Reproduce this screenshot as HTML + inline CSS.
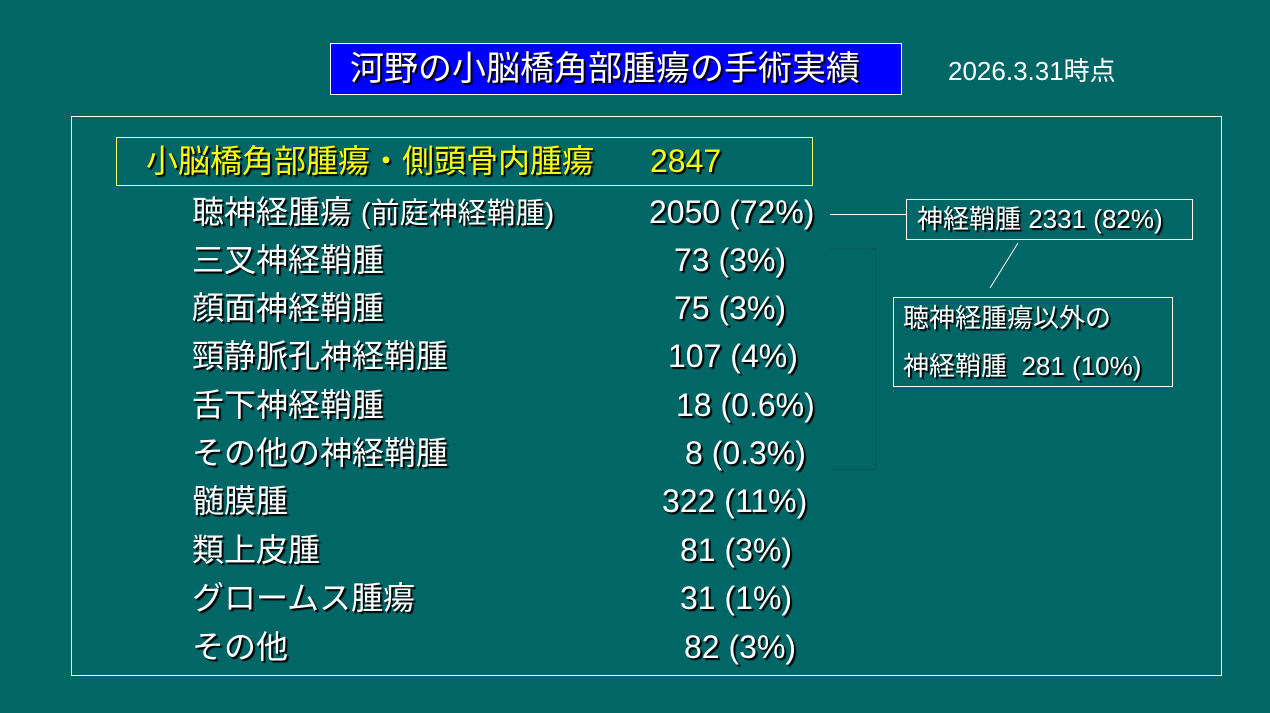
<!DOCTYPE html><html><head><meta charset="utf-8"><style>
body{margin:0;width:1270px;height:713px;background:#006666;position:relative;overflow:hidden;font-family:"Liberation Sans","Noto Sans CJK JP",sans-serif;color:#fff}
.a{position:absolute;white-space:nowrap;text-shadow:2px 2px 1px #000}
.r{font-size:32px;line-height:36px}
.s{font-size:26px;line-height:32px}
.box{position:absolute;box-sizing:border-box}
</style></head><body>
<div class="box" style="left:330px;top:43px;width:572px;height:52px;background:#0000ff;border:1px solid #fff"></div>
<div class="a" style="left:350px;top:49px;font-size:34px;line-height:40px">河野の小脳橋角部腫瘍の手術実績</div>
<div class="a s" style="left:948px;top:55px;text-shadow:none">2026.3.31時点</div>
<div class="box" style="left:71px;top:116px;width:1151px;height:560px;border:1px solid #fff"></div>
<div class="box" style="left:116px;top:137px;width:697px;height:49px;border:1px solid #ffff66"></div>
<div class="a r" style="left:146px;top:143px;color:#ffff00">小脳橋角部腫瘍・側頭骨内腫瘍</div>
<div class="a r" style="left:650px;top:143px;color:#ffff00">2847</div>
<div class="box" style="left:830px;top:248px;width:46px;height:222px;border:1px solid #0a5a5a;border-left:none"></div>
<div class="box" style="left:830px;top:214px;width:76px;height:1px;background:#fff"></div>
<svg class="box" style="left:0;top:0" width="1270" height="713"><line x1="1018" y1="243" x2="990" y2="288" stroke="#fff" stroke-width="1"/></svg>
<div class="box" style="left:906px;top:199px;width:287px;height:41px;border:1px solid #fff"></div>
<div class="a s" style="left:917px;top:203px">神経鞘腫 2331 (82%)</div>
<div class="box" style="left:893px;top:297px;width:280px;height:90px;border:1px solid #fff"></div>
<div class="a s" style="left:903px;top:302px">聴神経腫瘍以外の</div>
<div class="a s" style="left:903px;top:350px">神経鞘腫&nbsp; 281 (10%)</div>

<div class="a r" style="left:192px;top:194px">聴神経腫瘍 <span style="font-size:29px">(前庭神経鞘腫)</span></div><div class="a r" style="left:649px;top:194px">2050 (72%)</div>
<div class="a r" style="left:192px;top:242px">三叉神経鞘腫</div><div class="a r" style="left:674px;top:242px">73 (3%)</div>
<div class="a r" style="left:192px;top:290px">顔面神経鞘腫</div><div class="a r" style="left:674px;top:290px">75 (3%)</div>
<div class="a r" style="left:192px;top:338px">頸静脈孔神経鞘腫</div><div class="a r" style="left:668px;top:338px">107 (4%)</div>
<div class="a r" style="left:192px;top:387px">舌下神経鞘腫</div><div class="a r" style="left:676px;top:387px">18 (0.6%)</div>
<div class="a r" style="left:192px;top:435px">その他の神経鞘腫</div><div class="a r" style="left:685px;top:435px">8 (0.3%)</div>
<div class="a r" style="left:192px;top:483px">髄膜腫</div><div class="a r" style="left:662px;top:483px">322 (11%)</div>
<div class="a r" style="left:192px;top:532px">類上皮腫</div><div class="a r" style="left:680px;top:532px">81 (3%)</div>
<div class="a r" style="left:192px;top:580px">グロームス腫瘍</div><div class="a r" style="left:680px;top:580px">31 (1%)</div>
<div class="a r" style="left:192px;top:629px">その他</div><div class="a r" style="left:684px;top:629px">82 (3%)</div>
</body></html>
